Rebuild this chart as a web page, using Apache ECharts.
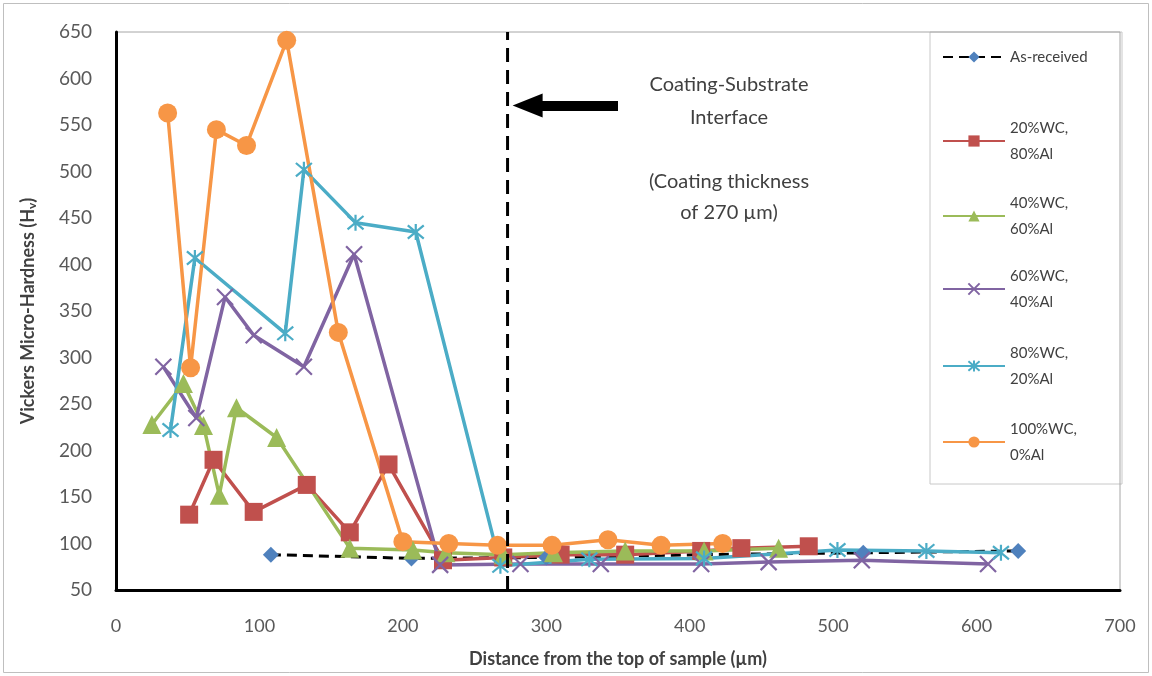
<!DOCTYPE html>
<html>
<head>
<meta charset="utf-8">
<script src="https://cdn.jsdelivr.net/npm/echarts@6/dist/echarts.min.js"></script>
<style>
  html, body { margin: 0; padding: 0; background: #ffffff; }
  #chart { width: 1152px; height: 676px; }
</style>
</head>
<body>
<div id="chart"></div>
<script>
// Micro-hardness profiles: [distance from top (µm), Vickers hardness (Hv)]
const asReceived = [[108, 88], [206, 84], [300, 85], [410, 88], [521, 90], [629, 92]];
const wc20al80 = [[51, 131], [68, 190], [96, 134], [133, 163], [163, 112], [190, 185], [228, 82],
                  [270, 85], [310, 88], [355, 88], [408, 92], [436, 95], [483, 97]];
const wc40al60 = [[25, 228], [47, 272], [61, 227], [72, 152], [84, 246], [112, 214], [163, 95],
                  [207, 93], [230, 90], [270, 88], [305, 90], [355, 92], [410, 92], [462, 95]];
const wc60al40 = [[33, 290], [56, 235], [76, 365], [96, 324], [131, 290], [166, 411], [226, 77],
                  [282, 78], [338, 78], [408, 78], [455, 80], [520, 82], [608, 78]];
const wc80al20 = [[38, 222], [55, 407], [118, 326], [131, 502], [167, 445], [209, 435], [268, 76],
                  [330, 83], [410, 84], [503, 93], [565, 92], [617, 90]];
const wc100al0 = [[36, 563], [52, 289], [70, 545], [91, 528], [119, 641], [155, 327], [200, 102],
                  [232, 100], [266, 98], [304, 98], [343, 104], [380, 98], [423, 100]];

// Coating / substrate boundary and the arrow pointing at it
const interfaceLine = [[273, 50], [273, 650]];
const arrowFrom = [350, 571];
const arrowTo = [287, 571];

const xTicks = { min: 0, max: 700, step: 100 };
const yTicks = { min: 50, max: 650, step: 50 };

const seriesNames = ['As-received', '20%WC,\n80%Al', '40%WC,\n60%Al', '60%WC,\n40%Al', '80%WC,\n20%Al', '100%WC,\n0%Al'];

const FONT = 'Lato';
const TXT = '#404040';

const xPath = 'path://M0,0L10,10M10,0L0,10';
const starPath = 'path://M0,0L10,10M10,0L0,10M5,-1L5,11';

function lineSeries(name, data, color, symbol, size, extra) {
  return Object.assign({
    type: 'line',
    name: name,
    data: data,
    symbol: symbol,
    symbolSize: size,
    showAllSymbol: true,
    lineStyle: { color: color, width: 3.5 },
    itemStyle: { color: color },
    emphasis: { disabled: true },
    animation: false
  }, extra || {});
}

function strokeMarker(color) {
  return { color: 'rgba(0,0,0,0)', borderColor: color, borderWidth: 2.2 };
}

// Legend: one block per entry, first text line aligned with the key line
const legendTops = [44, 102, 177, 250, 327, 403];
const legends = seriesNames.map((n, i) => ({
  data: [n],
  orient: 'vertical',
  left: 942,
  top: legendTops[i],
  padding: 0,
  itemWidth: 62,
  itemHeight: 14,
  selectedMode: false,
  textStyle: i === 0
    ? { fontFamily: FONT, fontSize: 15, color: TXT, lineHeight: 26 }
    : { fontFamily: FONT, fontSize: 15, color: TXT, lineHeight: 26, padding: [26, 0, 0, 0] }
}));

const chart = echarts.init(document.getElementById('chart'), null, { renderer: 'canvas' });

chart.setOption({
  backgroundColor: '#ffffff',
  animation: false,
  grid: {
    left: 116, right: 32, top: 32, bottom: 86,
    show: true, borderColor: '#a6a6a6', borderWidth: 1
  },
  legend: legends,
  xAxis: {
    type: 'value',
    min: xTicks.min, max: xTicks.max, interval: xTicks.step,
    splitLine: { show: false },
    axisTick: { show: false },
    axisLine: { show: true, lineStyle: { color: '#000', width: 3 } },
    axisLabel: { fontFamily: FONT, fontSize: 18, color: '#595959', margin: 27 },
    name: 'Distance from the top of sample (µm)',
    nameLocation: 'middle',
    nameGap: 60,
    nameTextStyle: { fontFamily: FONT, fontSize: 18, fontWeight: 'bold', color: TXT }
  },
  yAxis: {
    type: 'value',
    min: yTicks.min, max: yTicks.max, interval: yTicks.step,
    splitLine: { show: false },
    axisTick: { show: false },
    axisLine: { show: true, lineStyle: { color: '#000', width: 3 } },
    axisLabel: { fontFamily: FONT, fontSize: 19, color: '#595959', margin: 24 },
    name: '{a|Vickers Micro-Hardness (H}{s|v}{a|)}',
    nameLocation: 'middle',
    nameGap: 78,
    nameRotate: 90,
    nameTextStyle: {
      rich: {
        a: { fontFamily: FONT, fontSize: 18, fontWeight: 'bold', color: TXT },
        s: { fontFamily: FONT, fontSize: 12, fontWeight: 'bold', color: TXT, padding: [8, 0, 0, 0] }
      }
    }
  },
  graphic: [
    { type: 'rect', silent: true, z: -1,
      shape: { x: 930, y: 32, width: 192, height: 452 },
      style: { fill: 'none', stroke: '#c8c8c8', lineWidth: 1 } },
    { type: 'rect', silent: true,
      shape: { x: 3.5, y: 3.5, width: 1145, height: 669 },
      style: { fill: 'none', stroke: '#bfbfbf', lineWidth: 1 } },
    { type: 'text', silent: true,
      style: { text: 'Coating-Substrate\nInterface', x: 729, y: 101, align: 'center', verticalAlign: 'middle',
               font: '20px Lato', fill: TXT, lineHeight: 33 } },
    { type: 'text', silent: true,
      style: { text: '(Coating thickness\nof 270 µm)', x: 729, y: 197, align: 'center', verticalAlign: 'middle',
               font: '20px Lato', fill: TXT, lineHeight: 31 } }
  ],
  series: [
    lineSeries(seriesNames[0], asReceived, '#4F81BD', 'diamond', 16, {
      lineStyle: { color: '#000', width: 3, type: [10, 6] }
    }),
    lineSeries(seriesNames[1], wc20al80, '#C0504D', 'rect', 18),
    lineSeries(seriesNames[2], wc40al60, '#9BBB59', 'triangle', 19),
    lineSeries(seriesNames[3], wc60al40, '#8064A2', xPath, 16, { itemStyle: strokeMarker('#8064A2') }),
    lineSeries(seriesNames[4], wc80al20, '#4BACC6', starPath, 16, { itemStyle: strokeMarker('#4BACC6') }),
    lineSeries(seriesNames[5], wc100al0, '#F79646', 'circle', 19),
    {
      type: 'line',
      name: 'interface',
      data: interfaceLine,
      symbol: 'none',
      lineStyle: { color: '#000', width: 3, type: [14, 8] },
      emphasis: { disabled: true },
      z: 5,
      markLine: {
        silent: true,
        symbol: ['none', 'triangle'],
        symbolSize: [24, 30],
        label: { show: false },
        lineStyle: { color: '#000', width: 10, type: 'solid' },
        emphasis: { disabled: true },
        data: [[{ coord: arrowFrom }, { coord: arrowTo }]]
      }
    }
  ]
});
</script>
</body>
</html>
